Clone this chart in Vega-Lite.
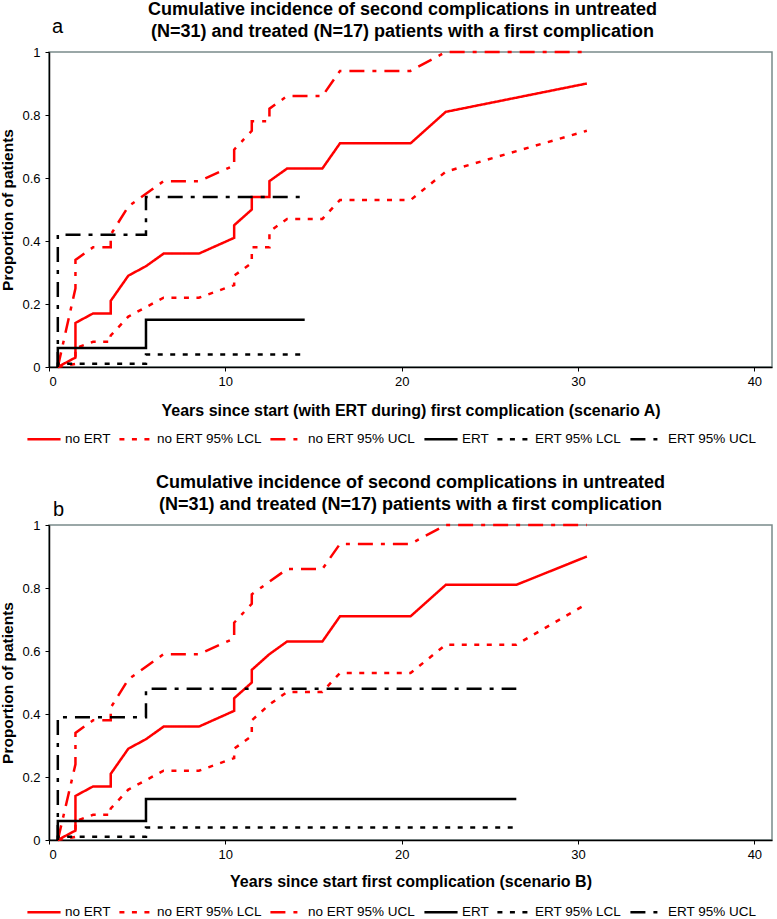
{
  "$schema": "https://vega.github.io/schema/vega-lite/v6.json",
  "padding": {"top": 0, "left": 0, "right": 0, "bottom": 0},
  "spacing": 26,
  "config": {
    "font": "Liberation Sans",
    "view": {"stroke": "#7a8a8a", "strokeWidth": 1.5},
    "title": {"font": "Liberation Sans", "fontSize": 18, "fontWeight": "bold", "anchor": "middle", "lineHeight": 22, "color": "black"},
    "axis": {
      "grid": false,
      "domainColor": "black",
      "domainWidth": 1.5,
      "tickColor": "black",
      "tickSize": 4,
      "labelFont": "Liberation Sans",
      "labelFontSize": 13,
      "labelColor": "black",
      "titleFont": "Liberation Sans",
      "titleFontWeight": "bold",
      "titleColor": "black"
    },
    "legend": {
      "orient": "none",
      "direction": "horizontal",
      "symbolType": "stroke",
      "symbolSize": 1100,
      "symbolStrokeWidth": 2.5,
      "labelFont": "Liberation Sans",
      "labelFontSize": 13.5,
      "labelColor": "black",
      "labelOffset": 3,
      "columnPadding": 3,
      "labelLimit": 300
    }
  },
  "datasets": {
    "a": [
      {"s": "no ERT", "i": 0, "x": 0.5, "y": 0},
      {"s": "no ERT", "i": 1, "x": 1.5, "y": 0.03},
      {"s": "no ERT", "i": 2, "x": 1.5, "y": 0.14},
      {"s": "no ERT", "i": 3, "x": 2.5, "y": 0.17},
      {"s": "no ERT", "i": 4, "x": 3.5, "y": 0.17},
      {"s": "no ERT", "i": 5, "x": 3.5, "y": 0.21},
      {"s": "no ERT", "i": 6, "x": 4.5, "y": 0.29},
      {"s": "no ERT", "i": 7, "x": 5.5, "y": 0.32},
      {"s": "no ERT", "i": 8, "x": 6.5, "y": 0.36},
      {"s": "no ERT", "i": 9, "x": 8.5, "y": 0.36},
      {"s": "no ERT", "i": 10, "x": 10.5, "y": 0.41},
      {"s": "no ERT", "i": 11, "x": 10.5, "y": 0.45},
      {"s": "no ERT", "i": 12, "x": 11.5, "y": 0.5},
      {"s": "no ERT", "i": 13, "x": 11.5, "y": 0.54},
      {"s": "no ERT", "i": 14, "x": 12.5, "y": 0.54},
      {"s": "no ERT", "i": 15, "x": 12.5, "y": 0.59},
      {"s": "no ERT", "i": 16, "x": 13.5, "y": 0.63},
      {"s": "no ERT", "i": 17, "x": 15.5, "y": 0.63},
      {"s": "no ERT", "i": 18, "x": 16.5, "y": 0.71},
      {"s": "no ERT", "i": 19, "x": 20.5, "y": 0.71},
      {"s": "no ERT", "i": 20, "x": 22.5, "y": 0.81},
      {"s": "no ERT", "i": 21, "x": 30.5, "y": 0.9},
      {"s": "no ERT 95% LCL", "i": 0, "x": 0.5, "y": 0},
      {"s": "no ERT 95% LCL", "i": 1, "x": 1.5, "y": 0.01},
      {"s": "no ERT 95% LCL", "i": 2, "x": 1.5, "y": 0.06},
      {"s": "no ERT 95% LCL", "i": 3, "x": 2.5, "y": 0.08},
      {"s": "no ERT 95% LCL", "i": 4, "x": 3.5, "y": 0.08},
      {"s": "no ERT 95% LCL", "i": 5, "x": 3.5, "y": 0.1},
      {"s": "no ERT 95% LCL", "i": 6, "x": 4.5, "y": 0.16},
      {"s": "no ERT 95% LCL", "i": 7, "x": 5.5, "y": 0.19},
      {"s": "no ERT 95% LCL", "i": 8, "x": 6.5, "y": 0.22},
      {"s": "no ERT 95% LCL", "i": 9, "x": 8.5, "y": 0.22},
      {"s": "no ERT 95% LCL", "i": 10, "x": 10.5, "y": 0.26},
      {"s": "no ERT 95% LCL", "i": 11, "x": 10.5, "y": 0.29},
      {"s": "no ERT 95% LCL", "i": 12, "x": 11.5, "y": 0.33},
      {"s": "no ERT 95% LCL", "i": 13, "x": 11.5, "y": 0.38},
      {"s": "no ERT 95% LCL", "i": 14, "x": 12.5, "y": 0.38},
      {"s": "no ERT 95% LCL", "i": 15, "x": 12.5, "y": 0.43},
      {"s": "no ERT 95% LCL", "i": 16, "x": 13.5, "y": 0.47},
      {"s": "no ERT 95% LCL", "i": 17, "x": 15.5, "y": 0.47},
      {"s": "no ERT 95% LCL", "i": 18, "x": 16.5, "y": 0.53},
      {"s": "no ERT 95% LCL", "i": 19, "x": 20.5, "y": 0.53},
      {"s": "no ERT 95% LCL", "i": 20, "x": 22.5, "y": 0.62},
      {"s": "no ERT 95% LCL", "i": 21, "x": 30.5, "y": 0.75},
      {"s": "no ERT 95% UCL", "i": 0, "x": 0.5, "y": 0},
      {"s": "no ERT 95% UCL", "i": 1, "x": 1.5, "y": 0.25},
      {"s": "no ERT 95% UCL", "i": 2, "x": 1.5, "y": 0.34},
      {"s": "no ERT 95% UCL", "i": 3, "x": 2.5, "y": 0.38},
      {"s": "no ERT 95% UCL", "i": 4, "x": 3.5, "y": 0.38},
      {"s": "no ERT 95% UCL", "i": 5, "x": 3.5, "y": 0.42},
      {"s": "no ERT 95% UCL", "i": 6, "x": 4.5, "y": 0.51},
      {"s": "no ERT 95% UCL", "i": 7, "x": 5.5, "y": 0.55},
      {"s": "no ERT 95% UCL", "i": 8, "x": 6.5, "y": 0.59},
      {"s": "no ERT 95% UCL", "i": 9, "x": 8.5, "y": 0.59},
      {"s": "no ERT 95% UCL", "i": 10, "x": 10.5, "y": 0.64},
      {"s": "no ERT 95% UCL", "i": 11, "x": 10.5, "y": 0.69},
      {"s": "no ERT 95% UCL", "i": 12, "x": 11.5, "y": 0.75},
      {"s": "no ERT 95% UCL", "i": 13, "x": 11.5, "y": 0.78},
      {"s": "no ERT 95% UCL", "i": 14, "x": 12.5, "y": 0.78},
      {"s": "no ERT 95% UCL", "i": 15, "x": 12.5, "y": 0.82},
      {"s": "no ERT 95% UCL", "i": 16, "x": 13.5, "y": 0.86},
      {"s": "no ERT 95% UCL", "i": 17, "x": 15.5, "y": 0.86},
      {"s": "no ERT 95% UCL", "i": 18, "x": 16.5, "y": 0.94},
      {"s": "no ERT 95% UCL", "i": 19, "x": 20.5, "y": 0.94},
      {"s": "no ERT 95% UCL", "i": 20, "x": 22.5, "y": 1.0},
      {"s": "no ERT 95% UCL", "i": 21, "x": 30.5, "y": 1.0},
      {"s": "ERT", "i": 0, "x": 0.5, "y": 0},
      {"s": "ERT", "i": 1, "x": 0.5, "y": 0.06},
      {"s": "ERT", "i": 2, "x": 5.5, "y": 0.06},
      {"s": "ERT", "i": 3, "x": 5.5, "y": 0.15},
      {"s": "ERT", "i": 4, "x": 14.5, "y": 0.15},
      {"s": "ERT 95% LCL", "i": 0, "x": 0.5, "y": 0},
      {"s": "ERT 95% LCL", "i": 1, "x": 0.5, "y": 0.01},
      {"s": "ERT 95% LCL", "i": 2, "x": 5.5, "y": 0.01},
      {"s": "ERT 95% LCL", "i": 3, "x": 5.5, "y": 0.04},
      {"s": "ERT 95% LCL", "i": 4, "x": 14.5, "y": 0.04},
      {"s": "ERT 95% UCL", "i": 0, "x": 0.5, "y": 0},
      {"s": "ERT 95% UCL", "i": 1, "x": 0.5, "y": 0.42},
      {"s": "ERT 95% UCL", "i": 2, "x": 5.5, "y": 0.42},
      {"s": "ERT 95% UCL", "i": 3, "x": 5.5, "y": 0.54},
      {"s": "ERT 95% UCL", "i": 4, "x": 14.5, "y": 0.54}
    ],
    "b": [
      {"s": "no ERT", "i": 0, "x": 0.5, "y": 0},
      {"s": "no ERT", "i": 1, "x": 1.5, "y": 0.03},
      {"s": "no ERT", "i": 2, "x": 1.5, "y": 0.14},
      {"s": "no ERT", "i": 3, "x": 2.5, "y": 0.17},
      {"s": "no ERT", "i": 4, "x": 3.5, "y": 0.17},
      {"s": "no ERT", "i": 5, "x": 3.5, "y": 0.21},
      {"s": "no ERT", "i": 6, "x": 4.5, "y": 0.29},
      {"s": "no ERT", "i": 7, "x": 5.5, "y": 0.32},
      {"s": "no ERT", "i": 8, "x": 6.5, "y": 0.36},
      {"s": "no ERT", "i": 9, "x": 8.5, "y": 0.36},
      {"s": "no ERT", "i": 10, "x": 10.5, "y": 0.41},
      {"s": "no ERT", "i": 11, "x": 10.5, "y": 0.45},
      {"s": "no ERT", "i": 12, "x": 11.5, "y": 0.5},
      {"s": "no ERT", "i": 13, "x": 11.5, "y": 0.54},
      {"s": "no ERT", "i": 14, "x": 12.5, "y": 0.59},
      {"s": "no ERT", "i": 15, "x": 13.5, "y": 0.63},
      {"s": "no ERT", "i": 16, "x": 15.5, "y": 0.63},
      {"s": "no ERT", "i": 17, "x": 16.5, "y": 0.71},
      {"s": "no ERT", "i": 18, "x": 20.5, "y": 0.71},
      {"s": "no ERT", "i": 19, "x": 22.5, "y": 0.81},
      {"s": "no ERT", "i": 20, "x": 26.5, "y": 0.81},
      {"s": "no ERT", "i": 21, "x": 30.5, "y": 0.9},
      {"s": "no ERT 95% LCL", "i": 0, "x": 0.5, "y": 0},
      {"s": "no ERT 95% LCL", "i": 1, "x": 1.5, "y": 0.01},
      {"s": "no ERT 95% LCL", "i": 2, "x": 1.5, "y": 0.06},
      {"s": "no ERT 95% LCL", "i": 3, "x": 2.5, "y": 0.08},
      {"s": "no ERT 95% LCL", "i": 4, "x": 3.5, "y": 0.08},
      {"s": "no ERT 95% LCL", "i": 5, "x": 3.5, "y": 0.1},
      {"s": "no ERT 95% LCL", "i": 6, "x": 4.5, "y": 0.16},
      {"s": "no ERT 95% LCL", "i": 7, "x": 5.5, "y": 0.19},
      {"s": "no ERT 95% LCL", "i": 8, "x": 6.5, "y": 0.22},
      {"s": "no ERT 95% LCL", "i": 9, "x": 8.5, "y": 0.22},
      {"s": "no ERT 95% LCL", "i": 10, "x": 10.5, "y": 0.26},
      {"s": "no ERT 95% LCL", "i": 11, "x": 10.5, "y": 0.29},
      {"s": "no ERT 95% LCL", "i": 12, "x": 11.5, "y": 0.33},
      {"s": "no ERT 95% LCL", "i": 13, "x": 11.5, "y": 0.38},
      {"s": "no ERT 95% LCL", "i": 14, "x": 12.5, "y": 0.43},
      {"s": "no ERT 95% LCL", "i": 15, "x": 13.5, "y": 0.47},
      {"s": "no ERT 95% LCL", "i": 16, "x": 15.5, "y": 0.47},
      {"s": "no ERT 95% LCL", "i": 17, "x": 16.5, "y": 0.53},
      {"s": "no ERT 95% LCL", "i": 18, "x": 20.5, "y": 0.53},
      {"s": "no ERT 95% LCL", "i": 19, "x": 22.5, "y": 0.62},
      {"s": "no ERT 95% LCL", "i": 20, "x": 26.5, "y": 0.62},
      {"s": "no ERT 95% LCL", "i": 21, "x": 30.5, "y": 0.75},
      {"s": "no ERT 95% UCL", "i": 0, "x": 0.5, "y": 0},
      {"s": "no ERT 95% UCL", "i": 1, "x": 1.5, "y": 0.24},
      {"s": "no ERT 95% UCL", "i": 2, "x": 1.5, "y": 0.34},
      {"s": "no ERT 95% UCL", "i": 3, "x": 2.5, "y": 0.38},
      {"s": "no ERT 95% UCL", "i": 4, "x": 3.5, "y": 0.38},
      {"s": "no ERT 95% UCL", "i": 5, "x": 3.5, "y": 0.42},
      {"s": "no ERT 95% UCL", "i": 6, "x": 4.5, "y": 0.51},
      {"s": "no ERT 95% UCL", "i": 7, "x": 5.5, "y": 0.55},
      {"s": "no ERT 95% UCL", "i": 8, "x": 6.5, "y": 0.59},
      {"s": "no ERT 95% UCL", "i": 9, "x": 8.5, "y": 0.59},
      {"s": "no ERT 95% UCL", "i": 10, "x": 10.5, "y": 0.64},
      {"s": "no ERT 95% UCL", "i": 11, "x": 10.5, "y": 0.69},
      {"s": "no ERT 95% UCL", "i": 12, "x": 11.5, "y": 0.75},
      {"s": "no ERT 95% UCL", "i": 13, "x": 11.5, "y": 0.78},
      {"s": "no ERT 95% UCL", "i": 14, "x": 12.5, "y": 0.82},
      {"s": "no ERT 95% UCL", "i": 15, "x": 13.5, "y": 0.86},
      {"s": "no ERT 95% UCL", "i": 16, "x": 15.5, "y": 0.86},
      {"s": "no ERT 95% UCL", "i": 17, "x": 16.5, "y": 0.94},
      {"s": "no ERT 95% UCL", "i": 18, "x": 20.5, "y": 0.94},
      {"s": "no ERT 95% UCL", "i": 19, "x": 22.5, "y": 1.0},
      {"s": "no ERT 95% UCL", "i": 20, "x": 26.5, "y": 1.0},
      {"s": "no ERT 95% UCL", "i": 21, "x": 30.5, "y": 1.0},
      {"s": "ERT", "i": 0, "x": 0.5, "y": 0},
      {"s": "ERT", "i": 1, "x": 0.5, "y": 0.06},
      {"s": "ERT", "i": 2, "x": 5.5, "y": 0.06},
      {"s": "ERT", "i": 3, "x": 5.5, "y": 0.13},
      {"s": "ERT", "i": 4, "x": 26.5, "y": 0.13},
      {"s": "ERT 95% LCL", "i": 0, "x": 0.5, "y": 0},
      {"s": "ERT 95% LCL", "i": 1, "x": 0.5, "y": 0.01},
      {"s": "ERT 95% LCL", "i": 2, "x": 5.5, "y": 0.01},
      {"s": "ERT 95% LCL", "i": 3, "x": 5.5, "y": 0.04},
      {"s": "ERT 95% LCL", "i": 4, "x": 26.5, "y": 0.04},
      {"s": "ERT 95% UCL", "i": 0, "x": 0.5, "y": 0},
      {"s": "ERT 95% UCL", "i": 1, "x": 0.5, "y": 0.39},
      {"s": "ERT 95% UCL", "i": 2, "x": 5.5, "y": 0.39},
      {"s": "ERT 95% UCL", "i": 3, "x": 5.5, "y": 0.48},
      {"s": "ERT 95% UCL", "i": 4, "x": 26.5, "y": 0.48}
    ]
  },
  "vconcat": [
    {
      "width": 723,
      "height": 315,
      "title": {"text": ["Cumulative incidence of second complications in untreated", "(N=31) and treated (N=17) patients with a first complication"], "dx": -8, "offset": -24},
      "layer": [
        {
          "data": {"name": "a"},
          "mark": {"type": "line", "strokeWidth": 2.5},
          "encoding": {
            "x": {"field": "x", "type": "quantitative", "scale": {"domain": [0, 41], "nice": false},
                  "axis": {"values": [0, 10, 20, 30, 40], "title": "Years since start (with ERT during) first complication (scenario A)", "titleFontSize": 16, "labelPadding": 4, "titlePadding": 14}},
            "y": {"field": "y", "type": "quantitative", "scale": {"domain": [0, 1], "nice": false},
                  "axis": {"values": [0, 0.2, 0.4, 0.6, 0.8, 1], "format": "~g", "title": "Proportion of patients", "titleFontSize": 15.5, "labelPadding": 5, "titlePadding": 6}},
            "color": {"field": "s", "type": "nominal",
                      "scale": {"domain": ["no ERT", "no ERT 95% LCL", "no ERT 95% UCL", "ERT", "ERT 95% LCL", "ERT 95% UCL"], "range": ["#ff0000", "#ff0000", "#ff0000", "#000000", "#000000", "#000000"]},
                      "legend": {"title": null, "legendX": -23, "legendY": 369}},
            "strokeDash": {"field": "s", "type": "nominal",
                      "scale": {"domain": ["no ERT", "no ERT 95% LCL", "no ERT 95% UCL", "ERT", "ERT 95% LCL", "ERT 95% UCL"], "range": [[1, 0], [5, 7.5], [15, 8, 4, 8], [1, 0], [5, 7.5], [15, 8, 4, 8]]},
                      "legend": {"title": null, "legendX": -23, "legendY": 369}},
            "order": {"field": "i", "type": "quantitative"}
          }
        },
        {
          "data": {"values": [{"label": "a"}]},
          "mark": {"type": "text", "align": "left", "baseline": "alphabetic", "fontSize": 20, "dx": 3, "dy": -19, "color": "black"},
          "encoding": {
            "x": {"datum": 0, "type": "quantitative"},
            "y": {"datum": 1, "type": "quantitative"},
            "text": {"field": "label"}
          }
        }
      ]
    },
    {
      "width": 723,
      "height": 315,
      "title": {"text": ["Cumulative incidence of second complications in untreated", "(N=31) and treated (N=17) patients with a first complication"], "offset": -14},
      "layer": [
        {
          "data": {"name": "b"},
          "mark": {"type": "line", "strokeWidth": 2.5},
          "encoding": {
            "x": {"field": "x", "type": "quantitative", "scale": {"domain": [0, 41], "nice": false},
                  "axis": {"values": [0, 10, 20, 30, 40], "title": "Years since start first complication (scenario B)", "titleFontSize": 16, "labelPadding": 4, "titlePadding": 12}},
            "y": {"field": "y", "type": "quantitative", "scale": {"domain": [0, 1], "nice": false},
                  "axis": {"values": [0, 0.2, 0.4, 0.6, 0.8, 1], "format": "~g", "title": "Proportion of patients", "titleFontSize": 15.5, "labelPadding": 5, "titlePadding": 6}},
            "color": {"field": "s", "type": "nominal",
                      "scale": {"domain": ["no ERT", "no ERT 95% LCL", "no ERT 95% UCL", "ERT", "ERT 95% LCL", "ERT 95% UCL"], "range": ["#ff0000", "#ff0000", "#ff0000", "#000000", "#000000", "#000000"]},
                      "legend": {"title": null, "legendX": -23, "legendY": 369}},
            "strokeDash": {"field": "s", "type": "nominal",
                      "scale": {"domain": ["no ERT", "no ERT 95% LCL", "no ERT 95% UCL", "ERT", "ERT 95% LCL", "ERT 95% UCL"], "range": [[1, 0], [5, 7.5], [15, 8, 4, 8], [1, 0], [5, 7.5], [15, 8, 4, 8]]},
                      "legend": {"title": null, "legendX": -23, "legendY": 369}},
            "order": {"field": "i", "type": "quantitative"}
          }
        },
        {
          "data": {"values": [{"label": "b"}]},
          "mark": {"type": "text", "align": "left", "baseline": "alphabetic", "fontSize": 20, "dx": 4, "dy": -9, "color": "black"},
          "encoding": {
            "x": {"datum": 0, "type": "quantitative"},
            "y": {"datum": 1, "type": "quantitative"},
            "text": {"field": "label"}
          }
        }
      ]
    }
  ],
  "resolve": {
    "scale": {"color": "independent", "strokeDash": "independent", "x": "independent", "y": "independent"},
    "legend": {"color": "independent", "strokeDash": "independent"}
  }
}
